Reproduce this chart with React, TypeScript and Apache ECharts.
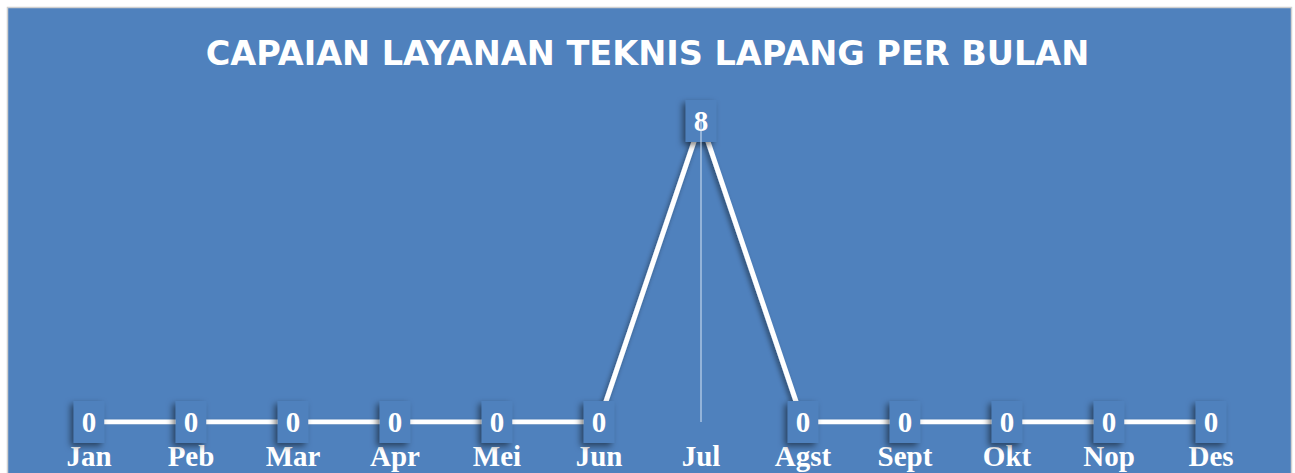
import React, { useEffect, useRef } from "react";
import * as echarts from "echarts";

const months = ["Jan", "Peb", "Mar", "Apr", "Mei", "Jun", "Jul", "Agst", "Sept", "Okt", "Nop", "Des"];
const values = [0, 0, 0, 0, 0, 0, 8, 0, 0, 0, 0, 0];
const titleText = "CAPAIAN LAYANAN TEKNIS LAPANG PER BULAN";
const yMin = 0;
const yMax = 8;

const BLUE = "#4F81BD";

export default function App() {
  const ref = useRef<HTMLDivElement>(null);
  useEffect(() => {
    document.body.style.margin = "0";
    const chart = echarts.init(ref.current!, null, { renderer: "svg" });
    chart.setOption({
      animation: false,
      backgroundColor: "#ffffff",
      graphic: [
        {
          type: "rect",
          z: -10,
          silent: true,
          shape: { x: 7.5, y: 7.5, width: 1284, height: 480 },
          style: { fill: BLUE, stroke: "#D0D0D0", lineWidth: 1.5 },
        },
      ],
      title: {
        text: titleText,
        left: "center",
        top: 31,
        textStyle: {
          color: "#ffffff",
          fontFamily: "DejaVu Sans",
          fontWeight: "bold",
          fontSize: 33.5,
        },
      },
      grid: { left: 38, right: 33, top: 121, bottom: 51, containLabel: false },
      xAxis: {
        type: "category",
        data: months,
        boundaryGap: true,
        axisLine: { show: false },
        axisTick: { show: false },
        axisLabel: {
          color: "#ffffff",
          fontFamily: "Liberation Serif",
          fontWeight: "bold",
          fontSize: 29,
          margin: 19,
        },
        splitLine: { show: false },
      },
      yAxis: {
        type: "value",
        min: yMin,
        max: yMax,
        show: false,
        splitLine: { show: false },
      },
      series: [
        {
          type: "line",
          data: values,
          symbol: "circle",
          symbolSize: 1,
          itemStyle: { color: "#ffffff" },
          lineStyle: {
            color: "#ffffff",
            width: 5,
            shadowColor: "rgba(0,0,0,0.45)",
            shadowBlur: 5,
            shadowOffsetX: -2,
            shadowOffsetY: 3,
          },
          label: {
            show: true,
            position: "inside",
            color: "#ffffff",
            fontFamily: "Liberation Serif",
            fontWeight: "bold",
            fontSize: 29,
            lineHeight: 32,
            backgroundColor: BLUE,
            padding: [5, 8, 5, 8],
            shadowColor: "rgba(0,0,0,0.5)",
            shadowBlur: 6,
            shadowOffsetX: -3,
            shadowOffsetY: 3,
          },
          markLine: {
            silent: true,
            symbol: "none",
            label: { show: false },
            lineStyle: { color: "rgba(220,232,248,0.65)", width: 1.5, type: "solid" },
            data: [
              [
                { coord: ["Jul", yMax] },
                { coord: ["Jul", yMin] },
              ],
            ],
          },
        },
      ],
    });
    return () => chart.dispose();
  }, []);
  return <div ref={ref} style={{ width: 1295, height: 473 }} />;
}
